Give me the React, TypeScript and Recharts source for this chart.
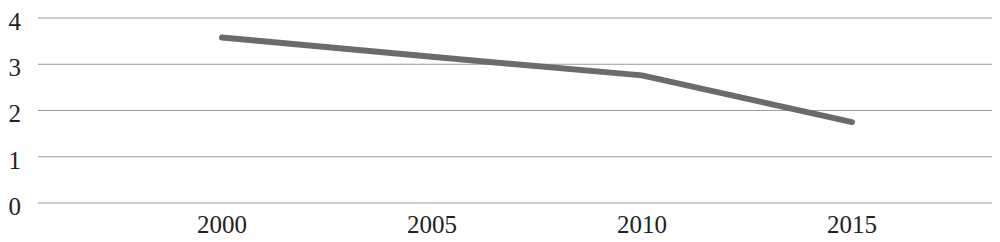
import React from 'react';
import { LineChart, Line, XAxis, YAxis, CartesianGrid } from 'recharts';

const years = ['2000', '2005', '2010', '2015'];
const values = [3.58, 3.16, 2.76, 1.75];
const yTicks = [0, 1, 2, 3, 4];

const data = years.map((year, i) => ({ year, value: values[i] }));

const font = '"Liberation Serif", "DejaVu Serif", serif';

export default function App() {
  return (
    <div style={{ position: 'absolute', left: 0, top: 0, background: '#fff' }}>
      <LineChart
        width={1000}
        height={242}
        data={data}
        margin={{ top: 18, right: 8, bottom: 0, left: 0 }}
      >
        <CartesianGrid vertical={false} stroke="#9a9a9a" strokeWidth={1} />
        <XAxis
          dataKey="year"
          axisLine={false}
          tickLine={false}
          height={39}
          tickMargin={6}
          padding={{ left: 184, right: 140 }}
          tick={{ fontFamily: font, fontSize: 25, fill: '#222' }}
        />
        <YAxis
          domain={[0, 4]}
          ticks={yTicks}
          width={38}
          axisLine={false}
          tickLine={false}
          tickMargin={11}
          tick={{ fontFamily: font, fontSize: 25, fill: '#222', dy: 3 }}
        />
        <Line
          type="linear"
          dataKey="value"
          stroke="#6b6b6b"
          strokeWidth={6}
          strokeLinecap="round"
          dot={false}
          isAnimationActive={false}
        />
      </LineChart>
    </div>
  );
}
